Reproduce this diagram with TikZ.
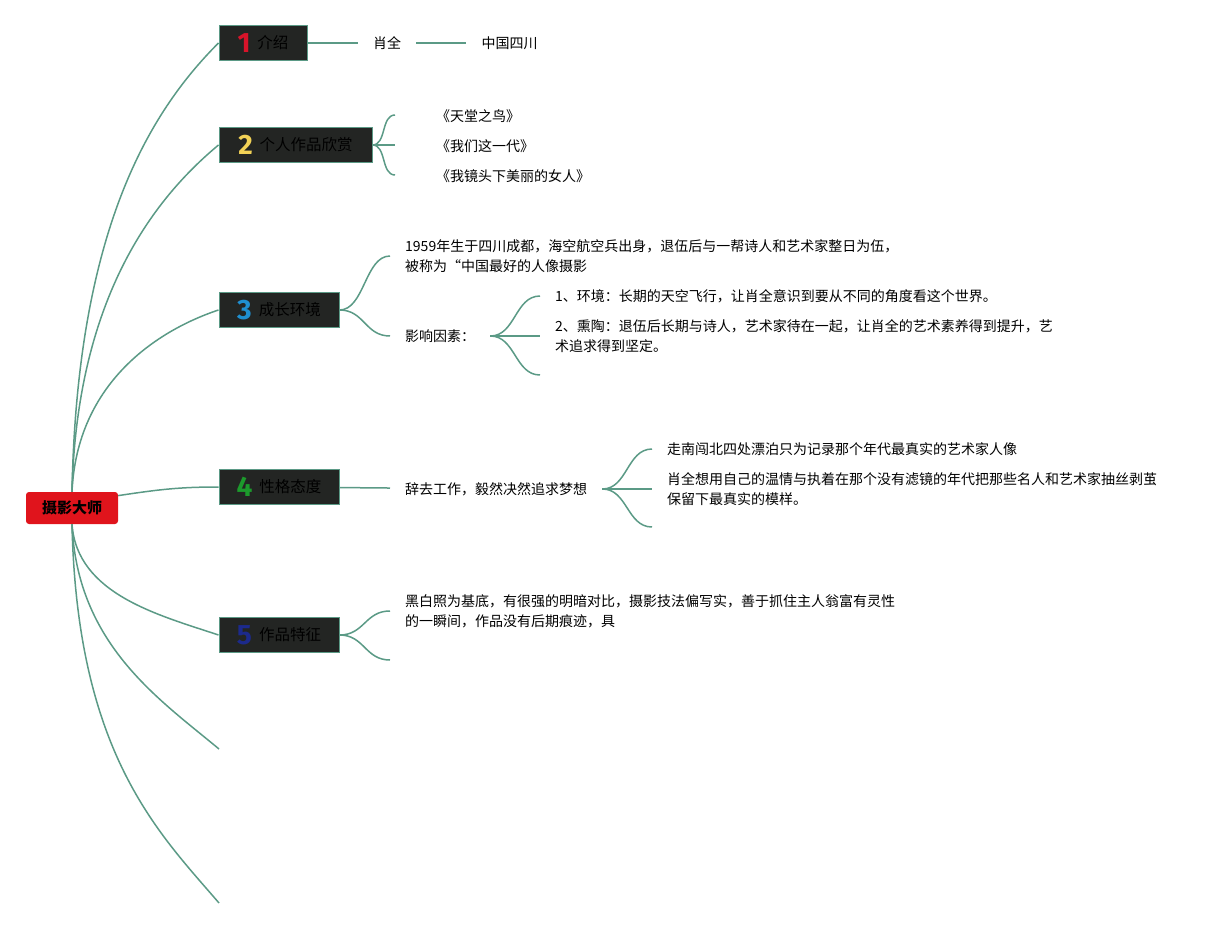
\documentclass[tikz,border=0pt]{standalone}
\usepackage{fontspec}
\setmainfont{Noto Sans CJK SC}
\newfontfamily\numfont{Fira Sans}
\usepackage{tikz}
\usetikzlibrary{positioning}
\definecolor{linegreen}{HTML}{5B9A86}
\definecolor{boxgray}{HTML}{232523}
\definecolor{rootred}{HTML}{E0141C}
\definecolor{numred}{HTML}{D8142A}
\definecolor{numyellow}{HTML}{F2D256}
\definecolor{numblue}{HTML}{1F8FD0}
\definecolor{numgreen}{HTML}{1C9A2C}
\definecolor{numnavy}{HTML}{1C2A8C}
\newcommand{\branchnum}[2]{\raisebox{-4pt}{\numfont\bfseries\fontsize{28}{28}\selectfont\color{#1}#2}\hspace{7pt}}
\tikzset{
root_box/.style={rectangle, rounded corners=3pt, fill=rootred, text=black, minimum width=92pt, minimum height=32pt, font=\fontsize{15}{18}\selectfont\bfseries},
branch_box/.style={rectangle, draw=linegreen, line width=1pt, fill=boxgray, text=black, minimum height=35pt, inner xsep=0pt, inner ysep=1pt, font=\fontsize{15.5}{18}\selectfont},
leaf_text/.style={rectangle, inner xsep=15pt, inner ysep=2pt, anchor=west, align=left, text=black, font=\fontsize{14}{20}\selectfont},
link/.style={draw=linegreen, line width=1.5pt}
}

\begin{document}
\begin{tikzpicture}[x=1pt, y=-1pt]
    \useasboundingbox (0,0) rectangle (1227,928);
    \node[root_box] (root) at (72,508) {摄影大师};

    \node[branch_box, minimum width=88pt] (b_1) at (263,43) {\branchnum{numred}{1}介绍};
    \node[branch_box, minimum width=153pt] (b_2) at (295.5,145) {\branchnum{numyellow}{2}个人作品欣赏};
    \node[branch_box, minimum width=120pt] (b_3) at (279,310) {\branchnum{numblue}{3}成长环境};
    \node[branch_box, minimum width=120pt] (b_4) at (279,487) {\branchnum{numgreen}{4}性格态度};
    \node[branch_box, minimum width=120pt] (b_5) at (279,635) {\branchnum{numnavy}{5}作品特征};
    \coordinate (e_6) at (219,749);
    \coordinate (e_7) at (219,903);

    % main branches
    \draw[link] (root.north) .. controls +(5,-260) and +(-70,70) .. (b_1.west);
    \draw[link] (root.north) .. controls +(5,-200) and +(-60,50) .. (b_2.west);
    \draw[link] (root.north) .. controls +(5,-110) and +(-60,20) .. (b_3.west);
    \draw[link] (root.15) .. controls +(40,-6) and +(-40,0) .. (b_4.west);
    \draw[link] (root.south) .. controls +(5,70) and +(-60,-20) .. (b_5.west);
    \draw[link] (root.south) .. controls +(5,120) and +(-60,-50) .. (e_6);
    \draw[link] (root.south) .. controls +(5,230) and +(-60,-70) .. (e_7);

    % 1
    \node[leaf_text] (t_1_1) at (358,43) {肖全};
    \node[leaf_text] (t_1_2) [right=50pt of t_1_1] {中国四川};
    \draw[link] (b_1) -- (t_1_1);
    \draw[link] (t_1_1) -- (t_1_2);

    % 2
    \coordinate (e_2_1) at (395,115);
    \coordinate (e_2_2) at (395,145);
    \coordinate (e_2_3) at (395,175);
    \node[leaf_text] (t_2_1) at (421,116) {《天堂之鸟》};
    \node[leaf_text] (t_2_2) at (421,146) {《我们这一代》};
    \node[leaf_text] (t_2_3) at (421,176) {《我镜头下美丽的女人》};
    \draw[link] (b_2.east) .. controls +(14,0) and +(-14,0) .. (e_2_1);
    \draw[link] (b_2.east) -- (e_2_2);
    \draw[link] (b_2.east) .. controls +(14,0) and +(-14,0) .. (e_2_3);

    % 3
    \node[leaf_text] (t_3_1) at (390,256) {1959年生于四川成都，海空航空兵出身，退伍后与一帮诗人和艺术家整日为伍，\\被称为“中国最好的人像摄影};
    \node[leaf_text] (t_3_2) at (390,336) {影响因素：};
    \draw[link] (b_3.east) .. controls +(25,0) and +(-25,0) .. (t_3_1.west);
    \draw[link] (b_3.east) .. controls +(25,0) and +(-25,0) .. (t_3_2.west);
    \node[leaf_text] (t_3_2_1) at (540,296) {1、环境：长期的天空飞行，让肖全意识到要从不同的角度看这个世界。};
    \node[leaf_text] (t_3_2_2) at (540,336) {2、熏陶：退伍后长期与诗人，艺术家待在一起，让肖全的艺术素养得到提升，艺\\术追求得到坚定。};
    \coordinate (e_3_2_3) at (540,375);
    \draw[link] (t_3_2.east) .. controls +(25,0) and +(-25,0) .. (t_3_2_1.west);
    \draw[link] (t_3_2.east) -- (t_3_2_2.west);
    \draw[link] (t_3_2.east) .. controls +(25,0) and +(-25,0) .. (e_3_2_3);

    % 4
    \node[leaf_text] (t_4_1) at (390,489) {辞去工作，毅然决然追求梦想};
    \draw[link] (b_4) -- (t_4_1);
    \node[leaf_text] (t_4_1_1) at (652,449) {走南闯北四处漂泊只为记录那个年代最真实的艺术家人像};
    \node[leaf_text] (t_4_1_2) at (652,489) {肖全想用自己的温情与执着在那个没有滤镜的年代把那些名人和艺术家抽丝剥茧\\保留下最真实的模样。};
    \coordinate (e_4_1_3) at (652,527);
    \draw[link] (t_4_1.east) .. controls +(25,0) and +(-25,0) .. (t_4_1_1.west);
    \draw[link] (t_4_1.east) -- (t_4_1_2.west);
    \draw[link] (t_4_1.east) .. controls +(25,0) and +(-25,0) .. (e_4_1_3);

    % 5
    \node[leaf_text] (t_5_1) at (390,611) {黑白照为基底，有很强的明暗对比，摄影技法偏写实，善于抓住主人翁富有灵性\\的一瞬间，作品没有后期痕迹，具};
    \coordinate (e_5_2) at (390,660);
    \draw[link] (b_5.east) .. controls +(25,0) and +(-25,0) .. (t_5_1.west);
    \draw[link] (b_5.east) .. controls +(25,0) and +(-25,0) .. (e_5_2);
\end{tikzpicture}
\end{document}
